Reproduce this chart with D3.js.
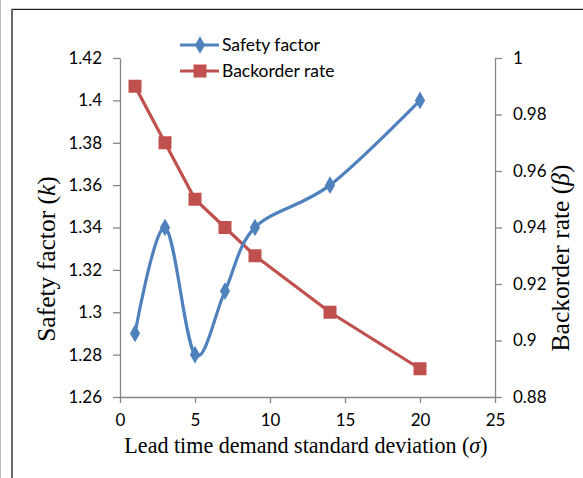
<!DOCTYPE html>
<html>
<head>
<meta charset="utf-8">
<script src="https://cdn.jsdelivr.net/npm/d3@7"></script>
<style>
  html, body { margin: 0; padding: 0; background: #fff; }
  svg { display: block; }
</style>
</head>
<body>
<script>
// Lead time demand standard deviation (sigma)
const sigma = [1, 3, 5, 7, 9, 14, 20];
// Safety factor k
const safetyFactor = [1.29, 1.34, 1.28, 1.31, 1.34, 1.36, 1.40];
// Backorder rate beta
const backorderRate = [0.99, 0.97, 0.95, 0.94, 0.93, 0.91, 0.89];

const xTicks = [0, 5, 10, 15, 20, 25];
const leftTicks = [1.26, 1.28, 1.30, 1.32, 1.34, 1.36, 1.38, 1.40, 1.42];
const rightTicks = [0.88, 0.90, 0.92, 0.94, 0.96, 0.98, 1.00];

const seriesNames = ["Safety factor", "Backorder rate"];

const W = 583, H = 478;
const blue = "#4F81BD", red = "#C0504D", axisGrey = "#868686";
const tickFont = "Lato, 'Open Sans', sans-serif";
const titleFont = "'Liberation Serif', 'DejaVu Serif', serif";

const svg = d3.select("body").append("svg")
  .attr("width", W).attr("height", H);

// outer frame
svg.append("rect").attr("x", 0).attr("y", 0).attr("width", W).attr("height", H).attr("fill", "#fff");
svg.append("line").attr("x1", 0.5).attr("x2", 0.5).attr("y1", 0).attr("y2", H)
  .attr("stroke", "#bdbdbd").attr("stroke-width", 1);
svg.append("line").attr("x1", 11).attr("x2", W).attr("y1", 8.5).attr("y2", 8.5)
  .attr("stroke", "#cfcfcf").attr("stroke-width", 1);
svg.append("line").attr("x1", 11).attr("x2", W).attr("y1", 9.5).attr("y2", 9.5)
  .attr("stroke", "#1a1a1a").attr("stroke-width", 1);
svg.append("line").attr("x1", 12).attr("x2", 12).attr("y1", 9).attr("y2", H)
  .attr("stroke", "#6a6a6a").attr("stroke-width", 2);

const x = d3.scaleLinear().domain([0, 25]).range([120, 495]);
const yL = d3.scaleLinear().domain([1.26, 1.42]).range([397, 58]);
const yR = d3.scaleLinear().domain([0.88, 1.00]).range([397, 58]);

function styleAxis(g) {
  g.selectAll(".domain").attr("stroke", axisGrey).attr("stroke-width", 1.3);
  g.selectAll(".tick line").attr("stroke", axisGrey).attr("stroke-width", 1.3);
  g.selectAll(".tick text").attr("fill", "#000")
    .style("font-family", tickFont).style("font-size", "17px");
}

const fmt = d => String(+d.toFixed(2));

// x axis
svg.append("g").attr("transform", `translate(0,${yL.range()[0]})`)
  .call(d3.axisBottom(x).tickValues(xTicks).tickSize(6).tickSizeOuter(0).tickPadding(11).tickFormat(d3.format("d")))
  .call(styleAxis);

// left axis
svg.append("g").attr("transform", `translate(${x(0)},0)`)
  .call(d3.axisLeft(yL).tickValues(leftTicks).tickSize(7).tickSizeOuter(0).tickPadding(11).tickFormat(fmt))
  .call(styleAxis);

// right axis
svg.append("g").attr("transform", `translate(${x(25)},0)`)
  .call(d3.axisRight(yR).tickValues(rightTicks).tickSize(7).tickSizeOuter(0).tickPadding(11).tickFormat(fmt))
  .call(styleAxis);

// series data
const sfData = sigma.map((s, i) => ({ x: s, y: safetyFactor[i] }));
const brData = sigma.map((s, i) => ({ x: s, y: backorderRate[i] }));

// backorder rate: straight segments
svg.append("path").datum(brData)
  .attr("fill", "none").attr("stroke", red).attr("stroke-width", 3.2)
  .attr("d", d3.line().x(d => x(d.x)).y(d => yR(d.y)));

// safety factor: smoothed curve
svg.append("path").datum(sfData)
  .attr("fill", "none").attr("stroke", blue).attr("stroke-width", 3.2)
  .attr("d", d3.line().x(d => x(d.x)).y(d => yL(d.y)).curve(d3.curveCardinal.tension(0)));

const diamond = d3.symbol().type(d3.symbolDiamond).size(90);
svg.append("g").selectAll("path").data(sfData).join("path")
  .attr("d", diamond)
  .attr("transform", d => `translate(${x(d.x)},${yL(d.y)})`)
  .attr("fill", blue);

svg.append("g").selectAll("rect").data(brData).join("rect")
  .attr("x", d => x(d.x) - 6.5).attr("y", d => yR(d.y) - 6.5)
  .attr("width", 13).attr("height", 13)
  .attr("fill", red);

// legend
const legend = svg.append("g");
const legY = [45, 71];
legend.append("line").attr("x1", 180).attr("x2", 219).attr("y1", legY[0]).attr("y2", legY[0])
  .attr("stroke", blue).attr("stroke-width", 3.2);
legend.append("path").attr("d", diamond).attr("transform", `translate(200,${legY[0]})`).attr("fill", blue);
legend.append("line").attr("x1", 180).attr("x2", 219).attr("y1", legY[1]).attr("y2", legY[1])
  .attr("stroke", red).attr("stroke-width", 3.2);
legend.append("rect").attr("x", 193.5).attr("y", legY[1] - 6.5).attr("width", 13).attr("height", 13).attr("fill", red);
seriesNames.forEach((name, i) => {
  legend.append("text").attr("x", 222).attr("y", legY[i]).attr("dy", "0.35em")
    .style("font-family", tickFont).style("font-size", "17.5px").text(name);
});

// axis titles
const xTitle = svg.append("text").attr("transform", "translate(306,453) scale(0.92,1)").attr("text-anchor", "middle")
  .style("font-family", titleFont).style("font-size", "24px");
xTitle.append("tspan").text("Lead time demand standard deviation (");
xTitle.append("tspan").style("font-style", "italic").text("σ");
xTitle.append("tspan").text(")");

const lTitle = svg.append("text").attr("transform", "translate(55,259) rotate(-90)").attr("text-anchor", "middle")
  .style("font-family", titleFont).style("font-size", "25.5px");
lTitle.append("tspan").text("Safety factor (");
lTitle.append("tspan").style("font-style", "italic").text("k");
lTitle.append("tspan").text(")");

const rTitle = svg.append("text").attr("transform", "translate(569,258) rotate(-90)").attr("text-anchor", "middle")
  .style("font-family", titleFont).style("font-size", "25.5px");
rTitle.append("tspan").text("Backorder rate (");
rTitle.append("tspan").style("font-style", "italic").text("β");
rTitle.append("tspan").text(")");
</script>
</body>
</html>
